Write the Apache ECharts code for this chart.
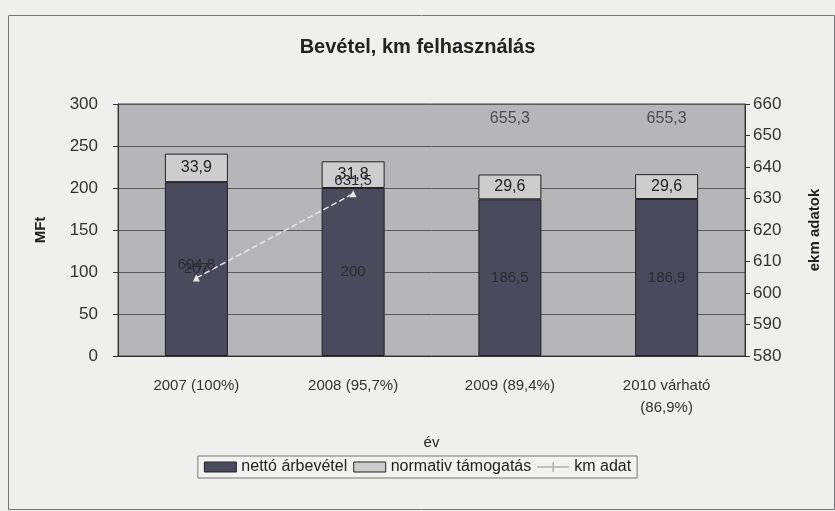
<!DOCTYPE html>
<html><head><meta charset="utf-8">
<script src="https://cdn.jsdelivr.net/npm/echarts@6/dist/echarts.min.js"></script>
<style>html,body{margin:0;padding:0;background:#efefed;}#c{width:835px;height:511px;}</style>
</head><body><div id="c"></div>
<script>
var categories = ['2007 (100%)', '2008 (95,7%)', '2009 (89,4%)', '2010 várható\n(86,9%)'];
var netto = [207, 200, 186.5, 186.9];
var normativ = [33.9, 31.8, 29.6, 29.6];
var kmLine = [604.8, 631.5, null, null];
var kmOnlyLabel = [null, null, 655.3, 655.3];
var leftTicks = {min: 0, max: 300, interval: 50};
var rightTicks = {min: 580, max: 660, interval: 10};

function fmt(v){ return String(v).replace('.', ','); }
var FONT = 'Liberation Sans, Arial, sans-serif';
var chart = echarts.init(document.getElementById('c'));
chart.setOption({
  backgroundColor: '#efefed',
  animation: false,
  textStyle: {fontFamily: FONT},
  title: {text: 'Bevétel, km felhasználás', left: 'center', top: 32,
    textStyle: {fontSize: 20, fontWeight: 'bold', color: '#222', fontFamily: FONT}},
  graphic: [{type: 'rect', shape: {x: 8.5, y: 15.5, width: 826, height: 494},
    style: {fill: 'none', stroke: '#777', lineWidth: 1}}],
  grid: {left: 118, right: 90, top: 104, bottom: 155, show: true,
    backgroundColor: '#b6b6b8', borderColor: '#444', borderWidth: 1},
  legend: {
    bottom: 33, left: 'center', itemWidth: 32, itemHeight: 10, itemGap: 6,
    icon: 'rect',
    borderColor: '#777', borderWidth: 1, padding: [3, 6], backgroundColor: '#f2f2f0',
    textStyle: {fontSize: 16, color: '#222', fontFamily: FONT},
    data: [{name: 'nettó árbevétel', itemStyle: {borderColor: '#222', borderWidth: 1}},
           {name: 'normativ támogatás', itemStyle: {borderColor: '#222', borderWidth: 1}},
           {name: 'km adat', icon: 'path://M0,9 L40,9 L40,11 L0,11 Z M19,4 L21,4 L21,16 L19,16 Z',
             itemStyle: {color: '#b0b0b0', borderWidth: 0}}]
  },
  xAxis: {type: 'category', data: categories,
    name: 'év', nameLocation: 'middle', nameGap: 79,
    nameTextStyle: {fontSize: 15, color: '#222', fontFamily: FONT},
    axisLine: {lineStyle: {color: '#333'}}, axisTick: {show: false},
    axisLabel: {fontSize: 15, color: '#333', margin: 19, lineHeight: 22, fontFamily: FONT}},
  yAxis: [
    {type: 'value', min: leftTicks.min, max: leftTicks.max, interval: leftTicks.interval,
      name: 'MFt', nameLocation: 'middle', nameGap: 70, nameRotate: 90,
      nameTextStyle: {fontSize: 15, fontWeight: 'bold', color: '#222', fontFamily: FONT},
      axisLine: {show: true, lineStyle: {color: '#333'}},
      axisTick: {show: true, length: 5, lineStyle: {color: '#333'}},
      axisLabel: {fontSize: 17, color: '#333', margin: 20, fontFamily: FONT},
      splitLine: {lineStyle: {color: '#5a5a5a', width: 1}}},
    {type: 'value', min: rightTicks.min, max: rightTicks.max, interval: rightTicks.interval,
      name: 'ekm adatok', nameLocation: 'middle', nameGap: 62, nameRotate: 90,
      nameTextStyle: {fontSize: 15, fontWeight: 'bold', color: '#222', fontFamily: FONT},
      axisLine: {show: true, lineStyle: {color: '#333'}},
      axisTick: {show: true, length: 5, lineStyle: {color: '#333'}},
      axisLabel: {fontSize: 17, color: '#333', margin: 8, fontFamily: FONT},
      splitLine: {show: false}}
  ],
  series: [
    {name: 'nettó árbevétel', type: 'bar', stack: 'a', barWidth: 63, data: netto,
      itemStyle: {color: '#4a4a5c', borderColor: '#222', borderWidth: 1},
      label: {show: true, position: 'inside', color: '#2a2a33', fontSize: 15,
        formatter: function(p){ return fmt(p.value); }}},
    {name: 'normativ támogatás', type: 'bar', stack: 'a', barWidth: 63, data: normativ,
      itemStyle: {color: '#cdcdcd', borderColor: '#222', borderWidth: 1},
      label: {show: true, position: 'inside', color: '#222', fontSize: 16,
        formatter: function(p){ return fmt(p.value); }}},
    {name: 'km adat', type: 'line', yAxisIndex: 1, data: kmLine, connectNulls: false,
      symbol: 'triangle', symbolSize: 7,
      lineStyle: {color: '#e6e6e6', width: 1.5, type: 'dashed'},
      itemStyle: {color: '#e6e6e6'},
      label: {show: true, position: 'top', distance: 2, color: '#2a2a33', fontSize: 15,
        formatter: function(p){ return p.value == null ? '' : fmt(p.value); }}},
    {name: 'km adat', type: 'scatter', yAxisIndex: 1, data: kmOnlyLabel,
      symbol: 'circle', symbolSize: 1, itemStyle: {color: 'rgba(0,0,0,0)'},
      label: {show: true, position: 'inside', color: '#333', fontSize: 16,
        formatter: function(p){ return p.value == null ? '' : fmt(p.value); }}}
  ]
});
</script></body></html>
